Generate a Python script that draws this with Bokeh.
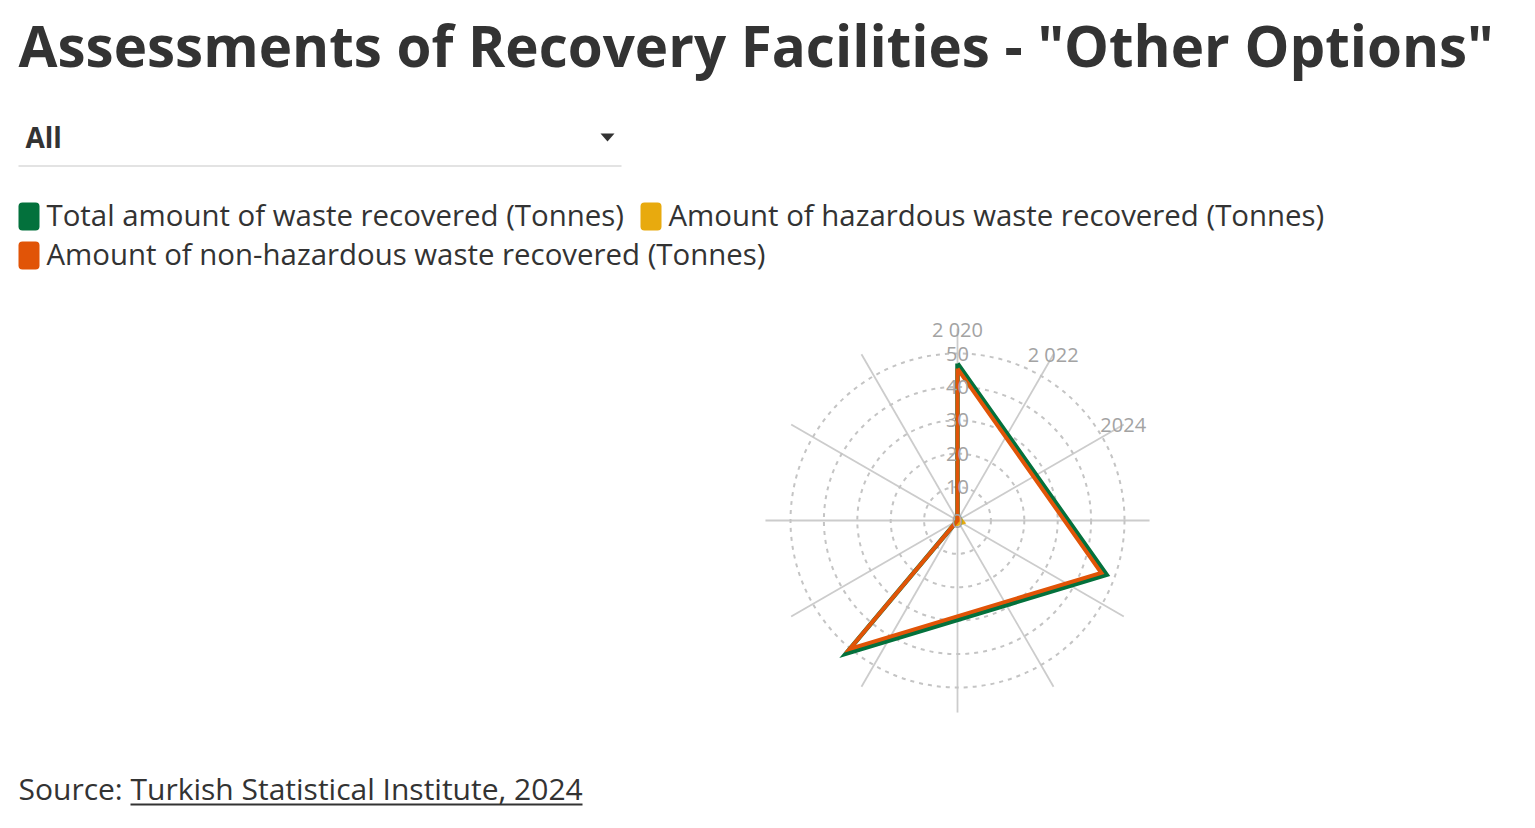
import numpy as np
from bokeh.plotting import figure
from bokeh.models import Label, BoxAnnotation, PolyAnnotation
from bokeh.embed import file_html
from bokeh.resources import INLINE

# ---- data -------------------------------------------------------------
years = [2020, 2021, 2022, 2023]
total_waste = [47.0, 47.5, 52.0, 0.0]
hazardous_waste = [1.5, 1.7, 1.8, 0.0]
non_hazardous_waste = [45.5, 45.8, 50.2, 0.0]

radial_ticks = [0, 10, 20, 30, 40, 50]
angular_tick_labels = ["2 020", "2 022", "2024"]

series_names = [
    "Total amount of waste recovered (Tonnes)",
    "Amount of hazardous waste recovered (Tonnes)",
    "Amount of non-hazardous waste recovered (Tonnes)",
]
series_colors = ["#03713c", "#e8aa0e", "#e15407"]

# ---- layout constants ---------------------------------------------------
W, H = 1535, 828
CX, CY = 957, 520          # polar centre in page pixels (from top-left)
PX_PER_UNIT = 167 / 50.0
DEG_PER_YEAR = 110.0       # angular step between consecutive years
SPOKE_STEP = 30
SPOKE_LEN = 57.5
FONT = "Open Sans"
TEXT = "#333333"
GRID = "#cccccc"
TICK = "#a3a3a3"
BASELINE_SHIFT = 0.41      # alphabetic baseline correction, in em

x0 = -CX / PX_PER_UNIT
x1 = (W - CX) / PX_PER_UNIT
y0 = -(H - CY) / PX_PER_UNIT
y1 = CY / PX_PER_UNIT

p = figure(width=W, height=H, x_range=(x0, x1), y_range=(y0, y1),
           output_backend="svg", toolbar_location=None,
           min_border=0, outline_line_color=None)
p.axis.visible = False
p.grid.visible = False
p.background_fill_color = "white"
p.border_fill_color = "white"


def polar(r, deg):
    t = np.radians(np.asarray(deg, dtype=float))
    r = np.asarray(r, dtype=float)
    return r * np.sin(t), r * np.cos(t)


# spokes
spoke_angles = np.arange(0, 360, SPOKE_STEP)
sx, sy = polar(np.full(len(spoke_angles), SPOKE_LEN), spoke_angles)
p.segment(x0=0, y0=0, x1=sx, y1=sy, line_color=GRID, line_width=1.8)

# dashed rings
rings = [t for t in radial_ticks if t > 0]
p.circle(x=[0] * len(rings), y=[0] * len(rings), radius=rings,
         fill_alpha=0, line_color="#c4c4c4", line_width=2,
         line_dash="4 5")

# series polygons (closed)
for vals, col, lw in zip([total_waste, hazardous_waste, non_hazardous_waste],
                         series_colors, [4.5, 4, 4]):
    ang = [(y - years[0]) * DEG_PER_YEAR for y in years]
    xs, ys = polar(vals, ang)
    xs = list(xs) + [xs[0]]
    ys = list(ys) + [ys[0]]
    p.line(xs, ys, line_color=col, line_width=lw, line_join="miter")

# radial tick labels along the upward spoke
for t in radial_ticks:
    p.add_layout(Label(x=0, y=t, text=str(t), text_align="center",
                       text_baseline="middle", text_font=FONT,
                       text_font_size="20px", text_color=TICK))

# angular tick labels at spoke ends
for i, lab in enumerate(angular_tick_labels):
    lx, ly = polar(57.3, i * SPOKE_STEP)
    p.add_layout(Label(x=float(lx), y=float(ly), text=lab,
                       text_align="center", text_baseline="middle",
                       text_font=FONT, text_font_size="20px",
                       text_color=TICK))


def page_text(x, baseline, text, size, bold=False, color=TEXT):
    """Place text with its baseline at a page y measured from the top."""
    p.add_layout(Label(x=x, y=H - baseline + BASELINE_SHIFT * size,
                       x_units="screen", y_units="screen", text=text,
                       text_font=FONT, text_font_size=f"{size}px",
                       text_font_style="bold" if bold else "normal",
                       text_color=color, text_baseline="alphabetic"))


def page_box(left, right, top, bottom, color, radius=0):
    p.add_layout(BoxAnnotation(left=left, right=right, top=H - top,
                               bottom=H - bottom,
                               left_units="screen", right_units="screen",
                               bottom_units="screen", top_units="screen",
                               fill_color=color, fill_alpha=1,
                               line_color=None, border_radius=radius))


# title
page_text(18, 68, 'Assessments of Recovery Facilities - "Other Options"', 56.5,
          bold=True)

# selector
page_text(25, 148, "All", 28, bold=True)
page_box(18, 621, 165, 166, "#c8c8c8")
p.add_layout(PolyAnnotation(xs=[600, 614, 607], ys=[H - 133, H - 133, H - 141],
                            xs_units="screen", ys_units="screen",
                            fill_color=TEXT, fill_alpha=1, line_color=None))

# legend
legend_items = [(18, 216, 0), (640, 216, 1), (18, 255, 2)]
for lx, cy, idx in legend_items:
    page_box(lx, lx + 21, cy - 14, cy + 14, series_colors[idx], radius=4)
    page_text(lx + 28, cy + 11, series_names[idx], 29.4)

# source line
page_text(18, 800, "Source:", 30)
page_text(130, 800, "Turkish Statistical Institute, 2024", 30)
page_box(130, 582, 803, 805, TEXT)

open("out.html", "w").write(file_html(p, INLINE))
